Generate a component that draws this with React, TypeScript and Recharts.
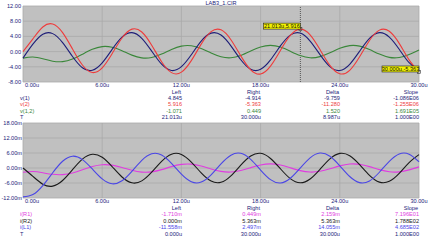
import React from 'react';
import {
  LineChart,
  Line,
  XAxis,
  YAxis,
  CartesianGrid,
  ReferenceLine,
  ReferenceDot,
} from 'recharts';

// ---- data (time in us) ----
const time = [
  0, 0.75, 1.5, 2.25, 3, 3.75, 4.5, 5.25, 6, 6.75, 7.5, 8.25, 9, 9.75, 10.5, 11.25, 12, 12.75, 13.5, 14.25,
  15, 15.75, 16.5, 17.25, 18, 18.75, 19.5, 20.25, 21, 21.75, 22.5, 23.25, 24, 24.75, 25.5, 26.25, 27, 27.75,
  28.5, 29.25, 30,
];
const v1 = [
  -1.71, 1.95, 4.57, 4.73, 2.36, -1.28, -4.24, -4.91, -2.95, 0.58, 3.81, 4.99, 3.5, 0.12, -3.32, -4.98, -3.96,
  -0.82, 2.76, 4.86, 4.36, 1.51, -2.14, -4.65, -4.66, -2.17, 1.49, 4.34, 4.87, 2.78, -0.79, -3.95, -4.98, -3.34,
  0.09, 3.47, 4.99, 3.83, 0.62, -2.93, -4.914,
];
const v2 = [
  0, 3.36, 6.47, 7.26, 5.0, 0.69, -3.53, -5.5, -4.27, -0.56, 3.59, 5.92, 5.15, 1.67, -2.66, -5.53, -5.41, -2.37,
  1.96, 5.24, 5.72, 3.13, -1.13, -4.79, -5.88, -3.81, 0.3, 4.25, 5.92, 4.41, 0.53, -3.63, -5.84, -4.92, -1.36,
  2.93, 5.65, 5.34, 2.16, -2.18, -5.363,
];
const v12 = [
  -1.71, -1.41, -1.9, -2.53, -2.64, -1.97, -0.71, 0.59, 1.32, 1.14, 0.22, -0.93, -1.65, -1.55, -0.66, 0.55, 1.45,
  1.55, 0.8, -0.38, -1.36, -1.62, -1.01, 0.14, 1.22, 1.64, 1.19, 0.09, -1.05, -1.63, -1.32, -0.32, 0.86, 1.58,
  1.45, 0.54, -0.66, -1.51, -1.54, -0.75, 0.449,
];
// currents in mA
const iR1 = [
  -1.71, -1.41, -1.9, -2.53, -2.64, -1.97, -0.71, 0.59, 1.32, 1.14, 0.22, -0.93, -1.65, -1.55, -0.66, 0.55, 1.45,
  1.55, 0.8, -0.38, -1.36, -1.62, -1.01, 0.14, 1.22, 1.64, 1.19, 0.09, -1.05, -1.63, -1.32, -0.32, 0.86, 1.58,
  1.45, 0.54, -0.66, -1.51, -1.54, -0.75, 0.449,
];
const iR2 = [
  0, -3.36, -6.47, -7.26, -5.0, -0.69, 3.53, 5.5, 4.27, 0.56, -3.59, -5.92, -5.15, -1.67, 2.66, 5.53, 5.41, 2.37,
  -1.96, -5.24, -5.72, -3.13, 1.13, 4.79, 5.88, 3.81, -0.3, -4.25, -5.92, -4.41, -0.53, 3.63, 5.84, 4.92, 1.36,
  -2.93, -5.65, -5.34, -2.16, 2.18, 5.363,
];
const iL1 = [
  -11.558, -10.64, -7.06, -1.89, 2.71, 4.72, 3.36, -0.39, -4.37, -6.31, -5.09, -1.31, 3.07, 5.71, 5.22, 1.89,
  -2.48, -5.54, -5.64, -2.72, 1.66, 5.14, 5.87, 3.45, -0.82, -4.65, -5.99, -4.11, -0.02, 4.07, 5.98, 4.68, 0.87,
  -3.41, -5.86, -5.17, -1.7, 2.68, 5.62, 5.54, 2.497,
];

const timeTicks = [0, 6, 12, 18, 24, 30];
const voltTicks = [-8, -4, 0, 4, 8, 12];
const currTicks = [-12, -6, 0, 6, 12, 18];

// cursor readouts
const cursorLeft = { t: 21.013, v: 5.916 };
const cursorRight = { t: 30, v: -5.363 };

const headers = ['Left', 'Right', 'Delta', 'Slope'];
const topLabels = ['v(1)', 'v(2)', 'v(1,2)', 'T'];
const topLeft = ['4.845', '5.916', '-1.071', '21.013u'];
const topRight = ['-4.914', '-5.363', '0.449', '30.000u'];
const topDelta = ['-9.759', '-11.280', '1.520', '8.987u'];
const topSlope = ['-1.086E06', '-1.255E06', '1.691E05', '1.000E00'];

const botLabels = ['i(R1)', 'i(R2)', 'i(L1)', 'T'];
const botLeft = ['-1.710m', '0.000m', '-11.558m', '0.000u'];
const botRight = ['0.449m', '5.363m', '2.497m', '30.000u'];
const botDelta = ['2.159m', '5.363m', '14.055m', '30.000u'];
const botSlope = ['7.196E01', '1.788E02', '4.685E02', '1.000E00'];

// ---- styling ----
const FONT = '"Liberation Sans", Arial, sans-serif';
const FS = 5.6;
const NAVY = '#22227a';
const C_V1 = '#1e1e78';
const C_V2 = '#ee3c3c';
const C_V12 = '#3a873a';
const C_R1 = '#e03ce0';
const C_R2 = '#1a1a1a';
const C_L1 = '#4a46e6';
const PLOT_BG = '#c0c0c0';
const GRID = '#a9a9a9';

const topColors = [C_V1, C_V2, C_V12, NAVY];
const botColors = [C_R1, C_R2, C_L1, NAVY];
const colRight = [182, 261, 340, 419];

const topData = time.map((t, i) => ({ t, v1: v1[i], v2: v2[i], v12: v12[i] }));
const botData = time.map((t, i) => ({ t, iR1: iR1[i], iR2: iR2[i], iL1: iL1[i] }));

const XTick = (props: any) => {
  const { x, y, payload, index } = props;
  const first = index === 0;
  return (
    <text
      x={first ? x + 2 : x}
      y={y + 4}
      textAnchor={first ? 'start' : 'middle'}
      fontFamily={FONT}
      fontSize={FS}
      fill={NAVY}
    >
      {`${payload.value.toFixed(2)}u`}
    </text>
  );
};

const makeYTick = (suffix: string) => (props: any) => {
  const { x, y, payload } = props;
  return (
    <text x={x} y={y + 2} textAnchor="end" fontFamily={FONT} fontSize={FS} fill={NAVY}>
      {`${payload.value.toFixed(2)}${suffix}`}
    </text>
  );
};

const CursorBox = (text: string) => (props: any) => {
  const { cx, cy } = props;
  const w = 37;
  const h = 6;
  return (
    <g>
      <rect x={cx - 1.5} y={cy - 1.5} width={3} height={3} fill="none" stroke="#333" strokeWidth={0.6} />
      <rect x={cx - w} y={cy - h} width={w} height={h} fill="#f2f200" stroke="#222" strokeWidth={0.6} />
      <text x={cx - w / 2} y={cy - 1.3} textAnchor="middle" fontFamily={FONT} fontSize={FS} fill="#111">
        {text}
      </text>
    </g>
  );
};

const Table = ({
  top,
  step,
  labels,
  colors,
  cols,
}: {
  top: number;
  step: number;
  labels: string[];
  colors: string[];
  cols: string[][];
}) => (
  <g fontFamily={FONT} fontSize={FS}>
    {headers.map((h, c) => (
      <text key={h} x={colRight[c] - 1} y={top + 2} textAnchor="end" fill={NAVY}>
        {h}
      </text>
    ))}
    {labels.map((lab, r) => (
      <g key={lab}>
        <text x={20} y={top + step * (r + 1) + 2} fill={colors[r]}>
          {lab}
        </text>
        {cols.map((col, c) => (
          <text key={c} x={colRight[c]} y={top + step * (r + 1) + 2} textAnchor="end" fill={colors[r]}>
            {col[r]}
          </text>
        ))}
      </g>
    ))}
  </g>
);

export default function App() {
  return (
    <div
      style={{
        position: 'absolute',
        left: 0,
        top: 0,
        width: 434,
        height: 240,
        background: '#ffffff',
        overflow: 'hidden',
      }}
    >
      {/* upper plot: node voltages */}
      <div style={{ position: 'absolute', left: 0, top: 0 }}>
        <LineChart width={434} height={90} data={topData} margin={{ top: 6, right: 15, bottom: 0, left: 0 }}>
          <CartesianGrid stroke={GRID} fill={PLOT_BG} strokeWidth={0.8} />
          <XAxis
            type="number"
            dataKey="t"
            domain={[0, 30]}
            ticks={timeTicks}
            interval={0}
            height={8}
            tickSize={0}
            tickMargin={1}
            axisLine={false}
            tick={<XTick />}
          />
          <YAxis
            type="number"
            domain={[-8, 12]}
            ticks={voltTicks}
            interval={0}
            width={23}
            tickSize={0}
            tickMargin={2}
            axisLine={false}
            tick={makeYTick('')}
          />
          <ReferenceLine x={cursorLeft.t} stroke="#3a3a3a" strokeDasharray="1 1" strokeWidth={0.8} />
          <Line type="natural" dataKey="v12" stroke={C_V12} strokeWidth={1.1} dot={false} isAnimationActive={false} />
          <Line type="natural" dataKey="v1" stroke={C_V1} strokeWidth={1.1} dot={false} isAnimationActive={false} />
          <Line type="natural" dataKey="v2" stroke={C_V2} strokeWidth={1.1} dot={false} isAnimationActive={false} />
          <ReferenceDot
            x={cursorLeft.t}
            y={cursorLeft.v}
            ifOverflow="visible"
            shape={CursorBox(`${cursorLeft.t.toFixed(3)}u,${cursorLeft.v.toFixed(3)}`)}
          />
          <ReferenceDot
            x={cursorRight.t}
            y={cursorRight.v}
            ifOverflow="visible"
            shape={CursorBox(`${cursorRight.t.toFixed(3)}u,${cursorRight.v.toFixed(3)}`)}
          />
        </LineChart>
      </div>

      {/* lower plot: branch currents */}
      <div style={{ position: 'absolute', left: 0, top: 118 }}>
        <LineChart width={434} height={88} data={botData} margin={{ top: 5, right: 15, bottom: 0, left: 0 }}>
          <CartesianGrid stroke={GRID} fill={PLOT_BG} strokeWidth={0.8} />
          <XAxis
            type="number"
            dataKey="t"
            domain={[0, 30]}
            ticks={timeTicks}
            interval={0}
            height={8}
            tickSize={0}
            tickMargin={1}
            axisLine={false}
            tick={<XTick />}
          />
          <YAxis
            type="number"
            domain={[-12, 18]}
            ticks={currTicks}
            interval={0}
            width={23}
            tickSize={0}
            tickMargin={1}
            axisLine={false}
            tick={makeYTick('m')}
          />
          <Line type="natural" dataKey="iR1" stroke={C_R1} strokeWidth={1.1} dot={false} isAnimationActive={false} />
          <Line type="natural" dataKey="iR2" stroke={C_R2} strokeWidth={1.1} dot={false} isAnimationActive={false} />
          <Line type="natural" dataKey="iL1" stroke={C_L1} strokeWidth={1.1} dot={false} isAnimationActive={false} />
        </LineChart>
      </div>

      {/* title and cursor readout tables */}
      <svg
        width={434}
        height={240}
        style={{ position: 'absolute', left: 0, top: 0, pointerEvents: 'none' }}
      >
        <text x={221} y={5} textAnchor="middle" fontFamily={FONT} fontSize={FS} fill={NAVY}>
          LAB3_1.CIR
        </text>
        <Table
          top={92}
          step={6.2}
          labels={topLabels}
          colors={topColors}
          cols={[topLeft, topRight, topDelta, topSlope]}
        />
        <Table
          top={207.8}
          step={6.45}
          labels={botLabels}
          colors={botColors}
          cols={[botLeft, botRight, botDelta, botSlope]}
        />
      </svg>
    </div>
  );
}
